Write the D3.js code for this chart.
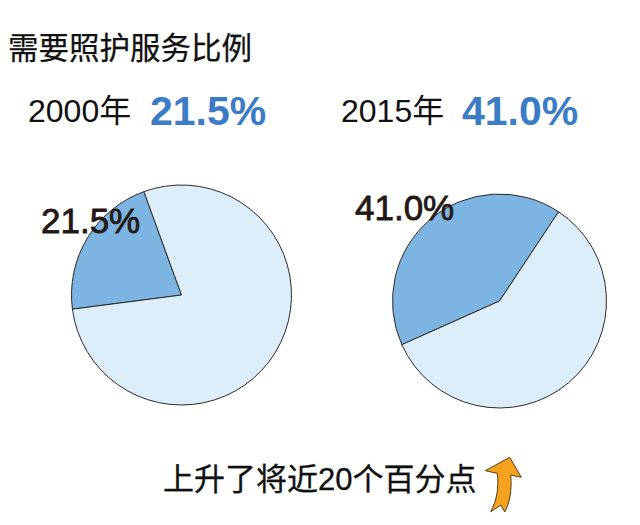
<!DOCTYPE html>
<html><head><meta charset="utf-8">
<script src="https://cdn.jsdelivr.net/npm/d3@7"></script>
<style>
html,body{margin:0;padding:0;background:#fff;}
svg{display:block;}
text{font-family:"Liberation Sans",Arial,"Noto Sans CJK SC",sans-serif;}
</style></head>
<body>
<svg id="c" width="640" height="525"></svg>
<script>
const title = "需要照护服务比例";
const years = ["2000年", "2015年"];
const shares = [21.5, 41.0];
const caption = "上升了将近20个百分点";

const svg = d3.select("#c");
const fmt = d => d3.format(".1f")(d) + "%";
const colors = ["#7db4e2", "#ddeefb"];

svg.append("text").attr("x", 8).attr("y", 59).attr("font-size", 30.5).attr("fill", "#111")
   .attr("stroke", "#111").attr("stroke-width", 0.25).text(title);

const layout = [
  {hx: 28, vx: 150, cx: 181.5, cy: 295, r: 110, endDeg: -20, lx: 41, ly: 233},
  {hx: 341, vx: 462, cx: 499.5, cy: 301, r: 107, endDeg: 33.5, lx: 355, ly: 220}
];

years.forEach((yr, i) => {
  const L = layout[i];
  svg.append("text").attr("x", L.hx).attr("y", 122).attr("font-size", 32).attr("fill", "#111").text(yr);
  svg.append("text").attr("x", L.vx).attr("y", 125).attr("font-size", 41).attr("font-weight", "bold")
     .attr("fill", "#3b7cc6").text(fmt(shares[i]));

  const start = (L.endDeg - shares[i] * 3.6) * Math.PI / 180;
  const pie = d3.pie().sort(null).startAngle(start).endAngle(start + 2 * Math.PI);
  const arc = d3.arc().innerRadius(0).outerRadius(L.r);
  const g = svg.append("g").attr("transform", `translate(${L.cx},${L.cy})`);
  g.selectAll("path").data(pie([shares[i], 100 - shares[i]])).join("path")
    .attr("d", arc).attr("fill", (d, j) => colors[j])
    .attr("stroke", "#2a2a2a").attr("stroke-width", 1).attr("stroke-linejoin", "round");

  svg.append("text").attr("x", L.lx).attr("y", L.ly).attr("font-size", 35).attr("fill", "#231815")
     .attr("stroke", "#231815").attr("stroke-width", 0.8).text(fmt(shares[i]));
});

svg.append("text").attr("x", 163).attr("y", 490).attr("font-size", 31).attr("fill", "#111")
   .attr("stroke", "#111").attr("stroke-width", 0.3).text(caption);

svg.append("path")
  .attr("d", "M509.7,457.3 L521.3,477.3 L510.7,475 C512,490 510,502 504.7,512 L501,505 L490.7,511.7 C497,500 499,487 497.3,473.3 L485.3,470.7 Z")
  .attr("fill", "#f5a21f").attr("stroke", "#5a3a10").attr("stroke-width", 1).attr("stroke-linejoin", "round");
</script>
</body></html>
